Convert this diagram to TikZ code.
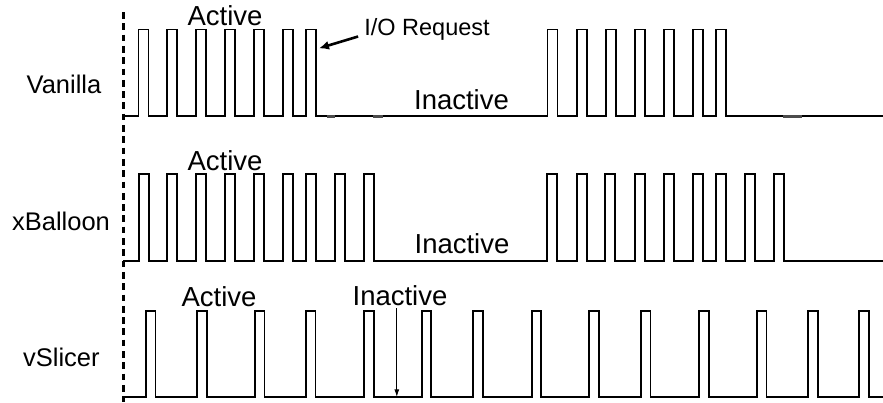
\documentclass[tikz,border=0pt]{standalone}
\usepackage{fontspec}
\setmainfont{Liberation Sans}
\usetikzlibrary{arrows.meta}

\tikzset{
  signal/.style={line width=1.7pt, line join=miter},
  axisline/.style={line width=3pt, dash pattern=on 6.7pt off 4.6pt},
  rowlabel/.style={font=\fontsize{25.5}{28}\selectfont, inner sep=0pt, anchor=base},
  phase/.style={font=\fontsize{27.5}{30}\selectfont, inner sep=0pt, anchor=base},
  callout/.style={font=\fontsize{23.5}{26}\selectfont, inner sep=0pt, anchor=base},
  seam/.style={line width=2.8pt, black!70},
  thickarrow/.style={line width=2.6pt, -{Latex[length=10pt,width=9pt]}},
  thinarrow/.style={line width=1.2pt, -{Latex[length=8pt,width=5pt]}}
}

\begin{document}
\begin{tikzpicture}[x=1pt, y=-1pt]
  \useasboundingbox (0,0) rectangle (883,402);

  % time axis origin
  \draw[axisline] (123.3,12) -- (123.3,402);

  % Vanilla trace
  \draw[signal] (123.3,116)
    foreach \s in {138.5,167.3,196,225,254,282.8,306.3,547.5,576.8,605.7,634.7,664,693,716}
      { -- (\s,116) -- (\s,29.5) -- ({\s+10},29.5) -- ({\s+10},116) }
    -- (883,116);
  \draw[seam] (327,116.4) -- (335,116.4);
  \draw[seam] (373,116.4) -- (383,116.4);
  \draw[seam] (783,116.4) -- (802,116.4);

  % xBalloon trace
  \draw[signal] (123.3,260.7)
    foreach \s in {139.3,167.3,196,225,254,282.7,306,335.3,364.3,546.7,576.7,605.3,634.7,664,692.7,716,745,774.3}
      { -- (\s,260.7) -- (\s,174) -- ({\s+10},174) -- ({\s+10},260.7) }
    -- (883,260.7);

  % vSlicer trace
  \draw[signal] (123.3,397.3)
    foreach \s in {146,197.3,255,306,364.3,421.7,473.3,531.7,589.3,641,699.3,757,808.3,859.3}
      { -- (\s,397.3) -- (\s,310.7) -- ({\s+9.5},310.7) -- ({\s+9.5},397.3) }
    -- (883,397.3);

  % row labels
  \node[rowlabel] (lvanilla) at (64,93) {Vanilla};
  \node[rowlabel] (lxballoon) at (61,230) {xBalloon};
  \node[rowlabel] (lvslicer) at (61.4,366) {vSlicer};

  % phase labels
  \node[phase] (act1) at (225,25) {Active};
  \node[phase] (inact1) at (461.5,109) {Inactive};
  \node[phase] (act2) at (225,170) {Active};
  \node[phase] (inact2) at (462,253) {Inactive};
  \node[phase] (act3) at (219,306) {Active};
  \node[phase] (inact3) at (400,305) {Inactive};

  % I/O request callout
  \node[callout] (io) at (427,35) {I/O Request};
  \coordinate (iotip) at (319,48.3);
  \draw[thickarrow] ([xshift=-6pt,yshift=-1.5pt]io.base west) -- (iotip);

  % inactive gap marker
  \coordinate (gaptip) at (396.8,397.3);
  \draw[thinarrow] ([xshift=-3.2pt,yshift=-3pt]inact3.base) -- (gaptip);
\end{tikzpicture}
\end{document}
